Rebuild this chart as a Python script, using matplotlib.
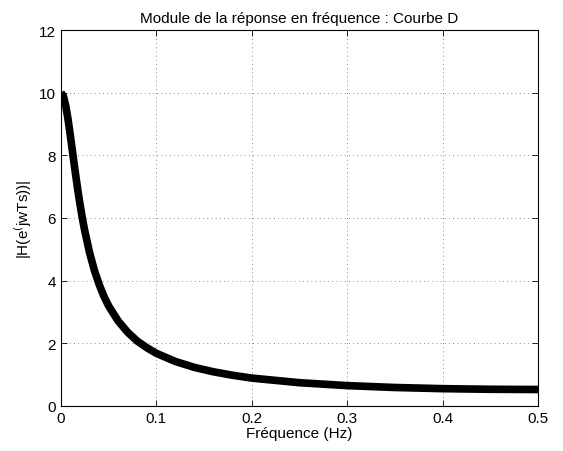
import matplotlib
matplotlib.use("Agg")
import matplotlib.pyplot as plt

plt.rcParams['font.family'] = ['Liberation Sans', 'DejaVu Sans']

freq = [0, 0.0025, 0.005, 0.0075, 0.01, 0.0125, 0.015, 0.0175, 0.02, 0.0225, 0.025,
        0.03, 0.035, 0.04, 0.045, 0.05, 0.06, 0.07, 0.08,
        0.09, 0.1, 0.12, 0.14, 0.16, 0.18, 0.2, 0.25, 0.3, 0.35, 0.4, 0.45, 0.5]
module = [10.0, 9.89, 9.58, 9.13, 8.59, 8.02, 7.46, 6.92, 6.43, 5.98, 5.58,
          4.89, 4.33, 3.88, 3.50, 3.19, 2.71, 2.35, 2.07,
          1.86, 1.68, 1.42, 1.23, 1.09, 0.98, 0.89, 0.743, 0.650, 0.590, 0.553, 0.533, 0.526]
xticks = [0, 0.1, 0.2, 0.3, 0.4, 0.5]
xticklabels = ['0', '0.1', '0.2', '0.3', '0.4', '0.5']
yticks = [0, 2, 4, 6, 8, 10, 12]

fig = plt.figure(figsize=(5.63, 4.52), dpi=100)
ax = fig.add_axes([0.1083, 0.0996, 0.8473, 0.8318])
ax.plot(freq, module, color='black', linewidth=5.5, solid_capstyle='butt',
        solid_joinstyle='round')
ax.set_xlim(0, 0.5)
ax.set_ylim(0, 12)
ax.set_xticks(xticks)
ax.set_xticklabels(xticklabels)
ax.set_yticks(yticks)
ax.tick_params(direction='in', top=True, right=True, labelsize=11, length=4, width=0.6)
ax.grid(True, linestyle=(0, (1, 4)), color='black', linewidth=0.6, alpha=0.6)
for s in ax.spines.values():
    s.set_linewidth(0.8)
ax.set_title('Module de la réponse en fréquence : Courbe D', fontsize=11, pad=6)
ax.set_xlabel('Fréquence (Hz)', fontsize=11, labelpad=1)
ax.set_ylabel(r'|H(e$^{(}$jwTs))|', fontsize=11, labelpad=4)
fig.savefig('out.png', dpi=100)
